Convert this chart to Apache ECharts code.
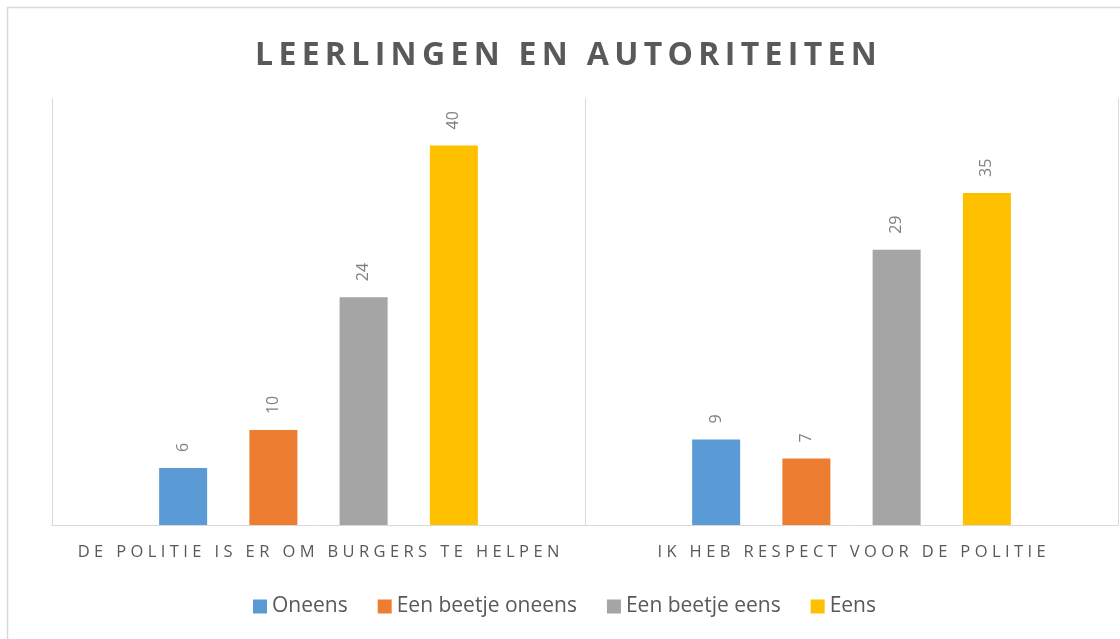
<!DOCTYPE html>
<html>
<head>
<meta charset="utf-8">
<script src="https://cdn.jsdelivr.net/npm/echarts@6/dist/echarts.min.js"></script>
<style>
  html, body { margin: 0; padding: 0; background: #fff; }
  #chart { width: 1120px; height: 639px; }
</style>
</head>
<body>
<div id="chart"></div>
<script>
// data
var categories = ['DE POLITIE IS ER OM BURGERS TE HELPEN', 'IK HEB RESPECT VOOR DE POLITIE'];
var seriesNames = ['Oneens', 'Een beetje oneens', 'Een beetje eens', 'Eens'];
var oneens = [6, 9];
var beetjeOneens = [10, 7];
var beetjeEens = [24, 29];
var eens = [40, 35];
var colors = ['#5b9bd5', '#ed7d31', '#a5a5a5', '#ffc000'];

// echarts has no letter-spacing, so put thin spaces between the letters
function spaced(s, sp) {
  return s.split('').join(sp);
}

var chart = echarts.init(document.getElementById('chart'));

function makeSeries(name, data, i) {
  return {
    name: name,
    type: 'bar',
    data: data,
    barWidth: 48,
    barGap: '88%',
    itemStyle: { color: colors[i] },
    label: {
      show: true,
      position: 'top',
      rotate: 90,
      align: 'left',
      verticalAlign: 'middle',
      distance: 16,
      color: '#808080',
      fontFamily: 'Open Sans',
      fontSize: 16
    }
  };
}

var option = {
  animation: false,
  title: {
    text: spaced('LEERLINGEN EN AUTORITEITEN', '\u2009'),
    left: 250,
    top: 35,
    textStyle: {
      fontFamily: 'Open Sans',
      fontWeight: 'bold',
      fontSize: 32,
      color: '#595959'
    }
  },
  graphic: [{
    type: 'rect',
    shape: { x: 7.5, y: 7.5, width: 1200, height: 700 },
    style: { fill: 'none', stroke: '#d9d9d9', lineWidth: 1.5 },
    silent: true
  }],
  legend: {
    bottom: 17,
    left: 248,
    itemWidth: 14,
    itemHeight: 14,
    itemGap: 30,
    icon: 'rect',
    textStyle: {
      fontFamily: 'Open Sans',
      fontSize: 21,
      color: '#595959'
    },
    data: seriesNames
  },
  grid: {
    left: 52,
    right: 2,
    top: 98,
    bottom: 114
  },
  xAxis: {
    type: 'category',
    data: categories.map(function (c) { return spaced(c, '\u2009\u200a'); }),
    axisLine: { lineStyle: { color: '#d9d9d9', width: 1 } },
    axisTick: { show: false },
    splitLine: { show: true, interval: 0, lineStyle: { color: '#d9d9d9', width: 1 } },
    axisLabel: {
      interval: 0,
      margin: 19,
      fontFamily: 'Open Sans',
      fontSize: 16.5,
      color: '#595959'
    }
  },
  yAxis: {
    type: 'value',
    min: 0,
    max: 45,
    axisLine: { show: false },
    axisTick: { show: false },
    axisLabel: { show: false },
    splitLine: { show: false }
  },
  series: [
    makeSeries(seriesNames[0], oneens, 0),
    makeSeries(seriesNames[1], beetjeOneens, 1),
    makeSeries(seriesNames[2], beetjeEens, 2),
    makeSeries(seriesNames[3], eens, 3)
  ]
};

chart.setOption(option);
</script>
</body>
</html>
